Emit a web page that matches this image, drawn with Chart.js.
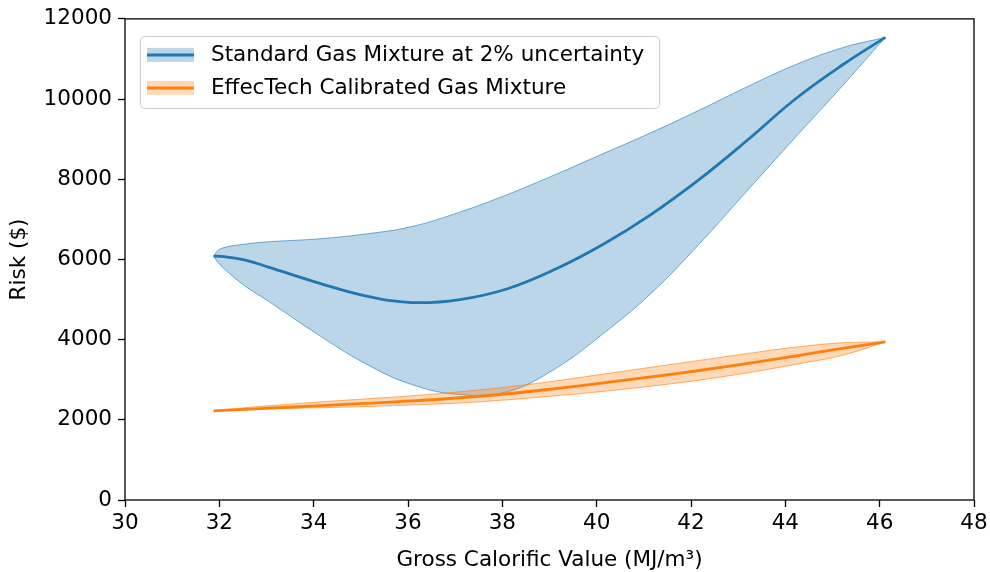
<!DOCTYPE html>
<html lang="en">
<head>
<meta charset="UTF-8" />
<title>Risk vs Gross Calorific Value</title>
<script src="https://cdn.jsdelivr.net/npm/chart.js@4"></script>
<style>
  html, body { margin: 0; padding: 0; background: #ffffff; }
  #wrap { width: 990px; height: 572px; }
</style>
</head>
<body>
<div id="wrap"><canvas id="riskChart" width="990" height="572"></canvas></div>
<script>
// gross calorific value (MJ/m3) sample points
const gcvStd = [31.88, 32.03, 32.53, 33.04, 34.06, 35.07, 36.08, 37.1, 38.11, 39.13, 40.14, 41.15, 42.17, 43.18, 44.2, 45.21, 46.12];
const stdMean = [6085, 6075, 5990, 5810, 5430, 5100, 4925, 5000, 5270, 5760, 6380, 7120, 7990, 8960, 9990, 10850, 11540];
const stdUpper = [6100, 6270, 6380, 6440, 6510, 6630, 6820, 7180, 7620, 8120, 8640, 9160, 9720, 10300, 10850, 11280, 11540];
const stdLower = [6070, 5850, 5350, 4960, 4150, 3420, 2880, 2630, 2700, 3280, 4150, 5150, 6380, 7700, 9030, 10330, 11540];

const gcvCal = [31.88, 32.53, 33.04, 34.06, 35.07, 36.08, 37.1, 38.11, 39.13, 40.14, 41.15, 42.17, 43.18, 44.2, 45.21, 46.12];
const calMean = [2225, 2260, 2290, 2350, 2410, 2470, 2550, 2650, 2780, 2920, 3070, 3230, 3400, 3590, 3780, 3943];
const calUpper = [2225, 2300, 2350, 2440, 2520, 2600, 2700, 2820, 2970, 3140, 3310, 3480, 3650, 3810, 3920, 3943];
const calLower = [2225, 2250, 2270, 2300, 2330, 2370, 2420, 2500, 2600, 2710, 2840, 2990, 3170, 3380, 3610, 3943];

const xTickValues = [30, 32, 34, 36, 38, 40, 42, 44, 46, 48];
const yTickValues = [0, 2000, 4000, 6000, 8000, 10000, 12000];

const legendLabels = ["Standard Gas Mixture at 2% uncertainty", "EffecTech Calibrated Gas Mixture"];

const BLUE = "#1f77b4";
const ORANGE = "#ff7f0e";
const FONT = "'DejaVu Sans', sans-serif";
const FS = 21.5;

const pts = (xs, ys) => xs.map((x, i) => ({x: x, y: ys[i]}));

// frame round the plot area and a matplotlib style legend
const framePlugin = {
  id: "frame",
  afterDatasetsDraw(chart) {
    const {ctx, chartArea: a} = chart;
    ctx.save();
    ctx.strokeStyle = "#000";
    ctx.lineWidth = 1.3;
    ctx.strokeRect(a.left, a.top, a.right - a.left, a.bottom - a.top);

    const bx = a.left + 15, by = a.top + 17, bw = 519, bh = 72;
    ctx.beginPath();
    ctx.roundRect(bx + 0.5, by + 0.5, bw, bh, 4);
    ctx.fillStyle = "rgba(255,255,255,0.8)";
    ctx.fill();
    ctx.strokeStyle = "#cccccc";
    ctx.lineWidth = 1;
    ctx.stroke();

    const rows = [
      {y: by + 19, line: BLUE, band: "rgba(31,119,180,0.3)"},
      {y: by + 52, line: ORANGE, band: "rgba(255,127,14,0.3)"},
    ];
    ctx.font = FS + "px " + FONT;
    ctx.textBaseline = "middle";
    ctx.textAlign = "left";
    rows.forEach((r, i) => {
      ctx.fillStyle = r.band;
      ctx.fillRect(bx + 7, r.y - 7, 47, 14);
      ctx.strokeStyle = r.line;
      ctx.lineWidth = 3;
      ctx.beginPath();
      ctx.moveTo(bx + 7, r.y);
      ctx.lineTo(bx + 54, r.y);
      ctx.stroke();
      ctx.fillStyle = "#000";
      ctx.fillText(legendLabels[i], bx + 71, r.y + 1);
    });
    ctx.restore();
  },
};

const bandLine = (xs, ys, color, fill, bg, order) => ({
  data: pts(xs, ys),
  borderColor: color,
  borderWidth: 1,
  backgroundColor: bg,
  fill: fill,
  order: order,
});

new Chart(document.getElementById("riskChart"), {
  type: "line",
  data: {
    datasets: [
      {data: pts(gcvStd, stdMean), borderColor: BLUE, borderWidth: 2.8, fill: false, order: 0},
      {data: pts(gcvCal, calMean), borderColor: ORANGE, borderWidth: 2.8, fill: false, order: 0},
      bandLine(gcvStd, stdUpper, "rgba(31,119,180,0.6)", false, "transparent", 2),
      bandLine(gcvStd, stdLower, "rgba(31,119,180,0.6)", "-1", "rgba(31,119,180,0.3)", 2),
      bandLine(gcvCal, calUpper, "rgba(255,127,14,0.6)", false, "transparent", 1),
      bandLine(gcvCal, calLower, "rgba(255,127,14,0.6)", "-1", "rgba(255,127,14,0.3)", 1),
    ],
  },
  options: {
    responsive: false,
    animation: false,
    layout: {padding: {left: 0, right: 16, top: 18, bottom: 0}},
    elements: {
      point: {radius: 0},
      line: {tension: 0.4, capBezierPoints: true},
    },
    plugins: {
      legend: {display: false},
      tooltip: {enabled: false},
    },
    scales: {
      x: {
        type: "linear",
        min: 30,
        max: 48,
        afterBuildTicks: s => { s.ticks = xTickValues.map(v => ({value: v})); },
        afterFit: s => { s.height = 72; s.paddingLeft = 0; s.paddingRight = 0; },
        ticks: {color: "#000", font: {family: FONT, size: FS}, padding: 4, maxRotation: 0},
        grid: {drawOnChartArea: false, tickLength: 7, tickColor: "#000", tickWidth: 1.3},
        border: {display: false},
        title: {
          display: true,
          text: "Gross Calorific Value (MJ/m³)",
          color: "#000",
          font: {family: FONT, size: FS},
          padding: {top: 0, bottom: -1},
        },
      },
      y: {
        min: 0,
        max: 12000,
        afterBuildTicks: s => { s.ticks = yTickValues.map(v => ({value: v})); },
        afterFit: s => { s.width = 125; },
        ticks: {color: "#000", font: {family: FONT, size: FS}, padding: 6, callback: v => String(v)},
        grid: {drawOnChartArea: false, tickLength: 7, tickColor: "#000", tickWidth: 1.3},
        border: {display: false},
        title: {
          display: true,
          text: "Risk ($)",
          color: "#000",
          font: {family: FONT, size: FS},
          padding: {top: 7, bottom: 0},
        },
      },
    },
  },
  plugins: [framePlugin],
});
</script>
</body>
</html>
